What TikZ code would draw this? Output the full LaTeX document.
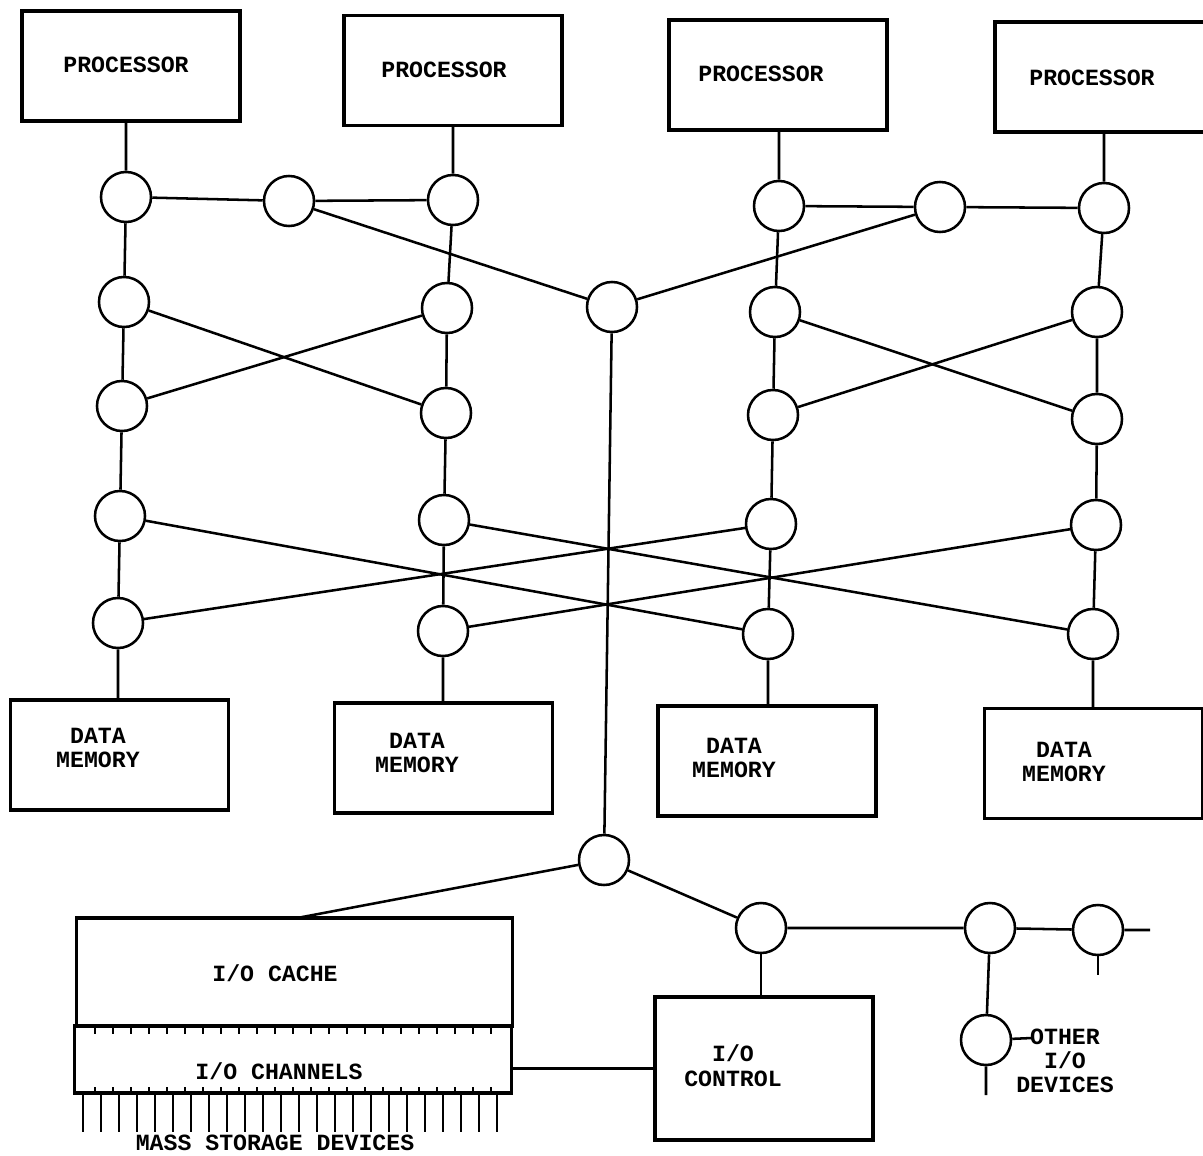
\documentclass[tikz,border=0pt]{standalone}
\usepackage{fontspec}
\setmainfont{Liberation Mono}
\usepackage{tikz}

\begin{document}
\begin{tikzpicture}[x=0.025cm, y=-0.025cm]
        \tikzset{sw/.style={draw, circle, line width=1.8pt, minimum size=1.25cm, inner sep=0pt},
                 unit/.style={draw, line width=2.2pt, minimum width=5.45cm, minimum height=2.75cm},
                 txt/.style={font=\fontsize{16.5}{17.5}\selectfont\bfseries, align=center, inner sep=0pt},
                 wire/.style={line width=1.8pt}}
        \useasboundingbox (0,0) rectangle (1203,1156);
        % processors and data memories
        \node [unit] (p1) at (131,66)   {};
        \node [unit] (p2) at (453,70.5) {};
        \node [unit] (p3) at (778,75)   {};
        \node [unit] (p4) at (1104,77)  {};
        \node [txt]  (pl1) at (126,65)  {PROCESSOR};
        \node [txt]  (pl2) at (444,70)  {PROCESSOR};
        \node [txt]  (pl3) at (761,74)  {PROCESSOR};
        \node [txt]  (pl4) at (1092,78) {PROCESSOR};
        \node [unit] (m1) at (119.5,755)  {};
        \node [unit] (m2) at (443.5,758)  {};
        \node [unit] (m3) at (767,761)    {};
        \node [unit] (m4) at (1093.5,763.5) {};
        \node [txt]  (ml1) at (98,748)   {DATA\\MEMORY};
        \node [txt]  (ml2) at (417,753)  {DATA\\MEMORY};
        \node [txt]  (ml3) at (734,758)  {DATA\\MEMORY};
        \node [txt]  (ml4) at (1064,762) {DATA\\MEMORY};
        % switches
        \node [sw] (c11) at (126,197) {};
        \node [sw] (c12) at (124,302) {};
        \node [sw] (c13) at (122,406) {};
        \node [sw] (c14) at (120,516) {};
        \node [sw] (c15) at (118,623) {};
        \node [sw] (c21) at (453,200) {};
        \node [sw] (c22) at (447,308) {};
        \node [sw] (c23) at (446,413) {};
        \node [sw] (c24) at (444,520) {};
        \node [sw] (c25) at (443,631) {};
        \node [sw] (c31) at (779,206) {};
        \node [sw] (c32) at (775,312) {};
        \node [sw] (c33) at (773,415) {};
        \node [sw] (c34) at (771,524) {};
        \node [sw] (c35) at (768,634) {};
        \node [sw] (c41) at (1104,208) {};
        \node [sw] (c42) at (1097,312) {};
        \node [sw] (c43) at (1097,419) {};
        \node [sw] (c44) at (1096,525) {};
        \node [sw] (c45) at (1093,634) {};
        \node [sw] (ml) at (289,201) {};
        \node [sw] (mr) at (940,207) {};
        \node [sw] (hub) at (612,307) {};
        \foreach \i in {1,...,4}
            \draw [wire] (c\i1 |- p\i.south) -- (c\i1) -- (c\i2) -- (c\i3) -- (c\i4) -- (c\i5) -- (c\i5 |- m\i.north);
        \draw [wire] (c11) -- (ml) -- (c21);
        \draw [wire] (c31) -- (mr) -- (c41);
        \draw [wire] (ml) -- (hub) -- (mr);
        \draw [wire] (c12) -- (c23);
        \draw [wire] (c13) -- (c22);
        \draw [wire] (c32) -- (c43);
        \draw [wire] (c33) -- (c42);
        \draw [wire] (c14) -- (c35);
        \draw [wire] (c15) -- (c34);
        \draw [wire] (c24) -- (c45);
        \draw [wire] (c25) -- (c44);
        % i/o side
        \node [sw] (ioh) at (604,860)  {};
        \node [sw] (io1) at (761,928)  {};
        \node [sw] (io2) at (990,928)  {};
        \node [sw] (io3) at (1098,930) {};
        \node [sw] (io4) at (986,1040) {};
        \node [draw, line width=2.2pt, minimum width=10.875cm, minimum height=2.7cm] (cache) at (294.5,972) {};
        \node [draw, line width=2.2pt, minimum width=10.9cm, minimum height=1.675cm] (chan) at (293,1059.5) {};
        \node [draw, line width=2.2pt, minimum width=5.45cm, minimum height=3.575cm] (ctl) at (764,1068.5) {};
        \node [txt] (cachelbl) at (275,973)  {I/O CACHE};
        \node [txt] (chanlbl)  at (279,1071) {I/O CHANNELS};
        \node [txt] (mass)     at (275,1143) {MASS STORAGE DEVICES};
        \node [txt] (ctllbl)   at (733,1066) {I/O\\CONTROL};
        \node [txt, font=\fontsize{16.5}{17}\selectfont\bfseries] (other) at (1065,1061) {OTHER\\I/O\\DEVICES};
        \coordinate (cachein) at (297,918);
        \coordinate (io3r) at (1150,930);
        \coordinate (io3d) at (1098,975);
        \coordinate (io4r) at (1032,1038);
        \coordinate (io4d) at (986,1095);
        \draw [wire] (hub) -- (ioh);
        \draw [wire] (cachein) -- (ioh) -- (io1) -- (io2) -- (io3) -- (io3r);
        \draw [wire] (io3) -- (io3d);
        \draw [wire] (io2) -- (io4) -- (io4d);
        \draw [wire] (io4) -- (io4r);
        \draw [wire] (io1) -- (io1 |- ctl.north);
        \draw [wire] (ctl.west) -- (ctl.west -| chan.east);
        \foreach \x in {0,...,22} {
            \draw [line width=1.3pt] (95+18*\x,1026) -- ++(0,8);
            \draw [line width=1.3pt] (95+18*\x,1093) -- ++(0,-6);
        }
        \foreach \x in {0,...,23}
            \draw [wire] (83+18*\x,1093) -- ++(0,39);
    \end{tikzpicture}
\end{document}
